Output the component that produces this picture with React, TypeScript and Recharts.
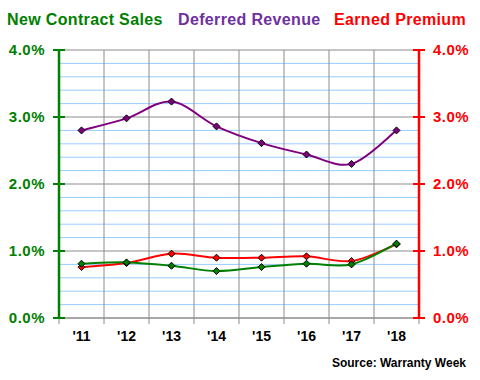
import React from 'react';
import { LineChart, Line, XAxis, YAxis, CartesianGrid } from 'recharts';

const years = ["'11", "'12", "'13", "'14", "'15", "'16", "'17", "'18"];
const newContractSales = [0.81, 0.83, 0.78, 0.7, 0.76, 0.81, 0.8, 1.11];
const deferredRevenue = [2.8, 2.98, 3.23, 2.86, 2.61, 2.44, 2.3, 2.8];
const earnedPremium = [0.76, 0.82, 0.96, 0.9, 0.9, 0.92, 0.85, 1.1];
const seriesNames = ['New Contract Sales', 'Deferred Revenue', 'Earned Premium'];
const yTicks = [0, 1, 2, 3, 4];
const minorGrid = [0.2, 0.4, 0.6, 0.8, 1.2, 1.4, 1.6, 1.8, 2.2, 2.4, 2.6, 2.8, 3.2, 3.4, 3.6, 3.8];
const xBounds = [0, 1, 2, 3, 4, 5, 6, 7, 8];

const GREEN = '#008000';
const PURPLE = '#800080';
const RED = '#ff0000';
const FONT = '"Liberation Sans", Arial, sans-serif';

const data = years.map((year, i) => ({
  x: i + 0.5,
  year,
  ncs: newContractSales[i],
  dr: deferredRevenue[i],
  ep: earnedPremium[i],
}));

// Catmull-Rom style smoothing, close to Excel's "smoothed line"
const smoothCurve = (context: any) => {
  let pts: [number, number][] = [];
  return {
    areaStart() {},
    areaEnd() {},
    lineStart() {
      pts = [];
    },
    lineEnd() {
      if (!pts.length) return;
      context.moveTo(pts[0][0], pts[0][1]);
      for (let i = 0; i < pts.length - 1; i++) {
        const p0 = pts[i - 1] || pts[i];
        const p1 = pts[i];
        const p2 = pts[i + 1];
        const p3 = pts[i + 2] || p2;
        context.bezierCurveTo(
          p1[0] + (p2[0] - p0[0]) / 6,
          p1[1] + (p2[1] - p0[1]) / 6,
          p2[0] - (p3[0] - p1[0]) / 6,
          p2[1] - (p3[1] - p1[1]) / 6,
          p2[0],
          p2[1]
        );
      }
    },
    point(x: number, y: number) {
      pts.push([+x, +y]);
    },
  };
};

const diamond = (fill: string) => (props: any) => {
  const { cx, cy, index } = props;
  if (cx == null || cy == null) return <g key={index} />;
  const r = 3.5;
  return (
    <polygon
      key={index}
      points={`${cx},${cy - r} ${cx + r},${cy} ${cx},${cy + r} ${cx - r},${cy}`}
      fill={fill}
      stroke="#000"
      strokeWidth={1}
    />
  );
};

const makeYTick = (color: string, side: 'left' | 'right') => (props: any) => {
  const { x, y, payload } = props;
  const ax = side === 'left' ? x + 14 : x - 14;
  return (
    <g>
      <line x1={ax - 6} x2={ax + 6} y1={y} y2={y} stroke={color} strokeWidth={2} />
      <text
        x={x}
        y={y}
        dy="0.36em"
        textAnchor={side === 'left' ? 'end' : 'start'}
        fill={color}
        fontFamily={FONT}
        fontWeight="bold"
        fontSize={15}
        letterSpacing={0.5}
      >
        {payload.value.toFixed(1)}%
      </text>
    </g>
  );
};

const XTick = (props: any) => {
  const { x, y, payload, width } = props;
  const i = payload.value;
  if (i >= years.length) return <g />;
  const band = typeof width === 'number' && width > 0 ? width / years.length : 45;
  return (
    <text
      x={x + band / 2}
      y={y}
      dy="0.71em"
      textAnchor="middle"
      fill="#000"
      fontFamily={FONT}
      fontWeight="bold"
      fontSize={14}
    >
      {years[i]}
    </text>
  );
};

const minorCoords = ({ offset }: any) =>
  minorGrid.map((v) => offset.top + offset.height * (1 - v / 4));

export default function App() {
  return (
    <div style={{ position: 'absolute', left: 0, top: 0, width: 480, height: 380, background: '#fff' }}>
      <div
        style={{
          position: 'absolute',
          top: 11.5,
          left: 0,
          width: 480,
          height: 16,
          lineHeight: '16px',
          fontFamily: FONT,
          fontWeight: 'bold',
          fontSize: 16,
          letterSpacing: 0.35,
          whiteSpace: 'nowrap',
        }}
      >
        <span style={{ position: 'absolute', left: 7, color: GREEN }}>{seriesNames[0]}</span>
        <span style={{ position: 'absolute', left: 178, color: '#7030a0' }}>{seriesNames[1]}</span>
        <span style={{ position: 'absolute', left: 334, color: RED }}>{seriesNames[2]}</span>
      </div>
      <LineChart width={480} height={380} data={data} margin={{ top: 50, right: 0, bottom: 32, left: 0 }}>
        <CartesianGrid
          yAxisId="left"
          vertical={false}
          stroke="#99ccff"
          strokeWidth={1}
          horizontalCoordinatesGenerator={minorCoords}
        />
        <CartesianGrid yAxisId="left" stroke="#8c8c8c" strokeWidth={1} />
        <XAxis
          dataKey="x"
          type="number"
          domain={[0, 8]}
          ticks={xBounds}
          interval={0}
          height={30}
          stroke="#8c8c8c"
          tickSize={6}
          tickMargin={7}
          tick={<XTick />}
        />
        <YAxis
          yAxisId="left"
          orientation="left"
          domain={[0, 4]}
          ticks={yTicks}
          width={59}
          tickSize={6}
          tickMargin={8}
          tickLine={false}
          axisLine={{ stroke: GREEN, strokeWidth: 2.5 }}
          tick={makeYTick(GREEN, 'left')}
        />
        <YAxis
          yAxisId="right"
          orientation="right"
          domain={[0, 4]}
          ticks={yTicks}
          width={61}
          tickSize={6}
          tickMargin={8}
          tickLine={false}
          axisLine={{ stroke: RED, strokeWidth: 2.5 }}
          tick={makeYTick(RED, 'right')}
        />
        <Line
          yAxisId="right"
          dataKey="ep"
          type={smoothCurve as any}
          stroke={RED}
          strokeWidth={2}
          dot={diamond(RED)}
          isAnimationActive={false}
        />
        <Line
          yAxisId="left"
          dataKey="ncs"
          type={smoothCurve as any}
          stroke={GREEN}
          strokeWidth={2}
          dot={diamond(GREEN)}
          isAnimationActive={false}
        />
        <Line
          yAxisId="left"
          dataKey="dr"
          type={smoothCurve as any}
          stroke={PURPLE}
          strokeWidth={2}
          dot={diamond(PURPLE)}
          isAnimationActive={false}
        />
      </LineChart>
      <div
        style={{
          position: 'absolute',
          right: 14,
          top: 356.5,
          lineHeight: '12px',
          fontFamily: FONT,
          fontWeight: 'bold',
          fontSize: 12,
          color: '#000',
          whiteSpace: 'nowrap',
        }}
      >
        Source: Warranty Week
      </div>
    </div>
  );
}
